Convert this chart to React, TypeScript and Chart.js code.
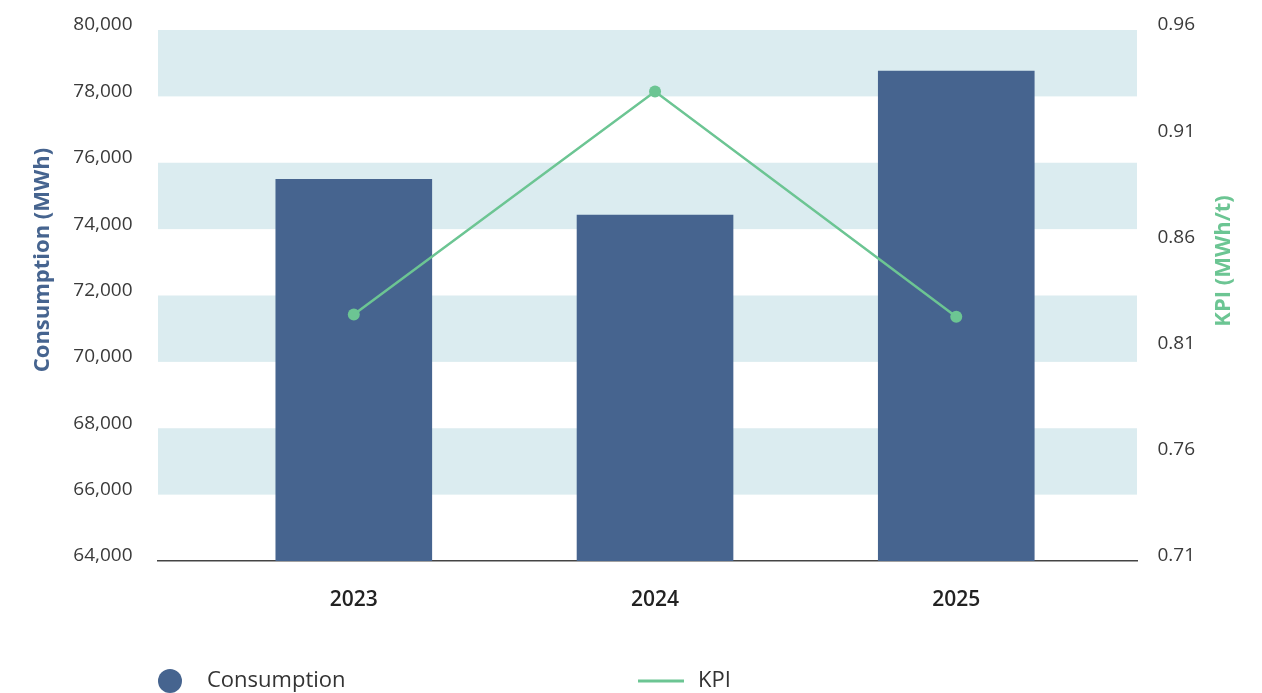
import { useEffect, useRef } from "react";
import { Chart, registerables } from "chart.js";

Chart.register(...registerables);

// Yearly energy consumption with the KPI intensity on a secondary axis
const YEARS = ["2023", "2024", "2025"];
const CONSUMPTION = [75510, 74430, 78770];
const KPI = [0.826, 0.931, 0.825];
const CONSUMPTION_TICKS = [64000, 66000, 68000, 70000, 72000, 74000, 76000, 78000, 80000];
const KPI_TICKS = [0.71, 0.76, 0.81, 0.86, 0.91, 0.96];

const LEFT_TITLE = "Consumption (MWh)";
const RIGHT_TITLE = "KPI (MWh/t)";
const SERIES_NAMES = ["Consumption", "KPI"];

const BAR_COLOR = "#46648f";
const LINE_COLOR = "#6cc593";
const BAND_COLOR = "#dbecf0";
const FONT = "'Open Sans', 'Noto Sans', sans-serif";

// Alternating shaded bands between every other pair of left-axis ticks
const bandsPlugin = {
  id: "bands",
  beforeDatasetsDraw(chart: any) {
    const { ctx, chartArea, scales } = chart;
    const y = scales.y;
    const ticks = y.ticks.map((t: any) => t.value);
    ctx.save();
    ctx.fillStyle = BAND_COLOR;
    for (let i = 1; i + 1 < ticks.length; i += 2) {
      const top = y.getPixelForValue(ticks[i + 1]);
      const bottom = y.getPixelForValue(ticks[i]);
      ctx.fillRect(chartArea.left, top, chartArea.right - chartArea.left, bottom - top);
    }
    ctx.restore();
  },
};

// Vertical axis titles, both reading bottom-to-top
const titlesPlugin = {
  id: "axisTitles",
  afterDraw(chart: any) {
    const { ctx } = chart;
    const draw = (text: string, x: number, y: number, color: string) => {
      ctx.save();
      ctx.translate(x, y);
      ctx.rotate(-Math.PI / 2);
      ctx.font = `bold 22px ${FONT}`;
      ctx.fillStyle = color;
      ctx.textAlign = "center";
      ctx.textBaseline = "middle";
      ctx.fillText(text, 0, 0);
      ctx.restore();
    };
    draw(LEFT_TITLE, 42.5, 260, BAR_COLOR);
    draw(RIGHT_TITLE, 1224, 261, LINE_COLOR);
  },
};

// Bottom legend: a dot for the bars, a short stroke for the line
const legendPlugin = {
  id: "bottomLegend",
  afterDraw(chart: any) {
    const { ctx } = chart;
    const datasets = chart.data.datasets;
    const bars = datasets.find((d: any) => d.type === "bar");
    const line = datasets.find((d: any) => d.type === "line");
    const cy = 681;
    ctx.save();
    ctx.font = `22px ${FONT}`;
    ctx.textBaseline = "middle";
    ctx.textAlign = "left";

    ctx.beginPath();
    ctx.arc(170, cy, 12, 0, Math.PI * 2);
    ctx.fillStyle = bars.backgroundColor;
    ctx.fill();
    ctx.fillStyle = "#333333";
    ctx.fillText(bars.label, 207, cy);

    ctx.beginPath();
    ctx.moveTo(638, cy);
    ctx.lineTo(684, cy);
    ctx.strokeStyle = line.borderColor;
    ctx.lineWidth = 3;
    ctx.stroke();
    ctx.fillText(line.label, 698, cy);
    ctx.restore();
  },
};

// Vertical axes reserve a fixed width and no extra label overhang
const fixVertical = (width: number) => (scale: any) => {
  scale.width = width;
  scale.paddingTop = 0;
  scale.paddingBottom = 0;
};

export default function App() {
  const canvasRef = useRef<HTMLCanvasElement | null>(null);

  useEffect(() => {
    document.body.style.margin = "0";
    const canvas = canvasRef.current;
    if (!canvas) return;

    const chart = new Chart(canvas, {
      type: "bar",
      data: {
        datasets: [
          {
            type: "line",
            label: SERIES_NAMES[1],
            data: KPI.map((v, i) => ({ x: i, y: v })),
            yAxisID: "y1",
            borderColor: LINE_COLOR,
            backgroundColor: LINE_COLOR,
            borderWidth: 2.5,
            pointRadius: 6,
            pointBorderWidth: 0,
            pointBackgroundColor: LINE_COLOR,
            tension: 0,
            order: 0,
          } as any,
          {
            type: "bar",
            label: SERIES_NAMES[0],
            data: CONSUMPTION.map((v, i) => ({ x: i, y: v })),
            yAxisID: "y",
            backgroundColor: BAR_COLOR,
            borderWidth: 0,
            barPercentage: 0.52,
            categoryPercentage: 1,
            order: 1,
          } as any,
        ],
      },
      options: {
        animation: false,
        responsive: true,
        maintainAspectRatio: false,
        layout: { padding: { top: 30, bottom: 62, left: 0, right: 0 } },
        plugins: {
          legend: { display: false },
          tooltip: { enabled: false },
          title: { display: false },
        },
        scales: {
          x: {
            type: "linear",
            offset: false,
            min: -0.65,
            max: 2.6,
            grid: { display: false, drawTicks: false, offset: false },
            border: { display: true, color: "#444444", width: 1.5 },
            afterBuildTicks: (scale: any) => {
              scale.ticks = YEARS.map((_, i) => ({ value: i }));
            },
            afterFit: (scale: any) => {
              scale.height = 70;
            },
            ticks: {
              autoSkip: false,
              maxRotation: 0,
              padding: 26,
              color: "#222222",
              font: { family: FONT, size: 21, weight: 600 },
              callback: (value: any) => YEARS[value as number] ?? "",
            },
          },
          y: {
            type: "linear",
            position: "left",
            min: CONSUMPTION_TICKS[0],
            max: CONSUMPTION_TICKS[CONSUMPTION_TICKS.length - 1],
            grid: { display: false, drawTicks: false },
            border: { display: false },
            afterBuildTicks: (scale: any) => {
              scale.ticks = CONSUMPTION_TICKS.map((v) => ({ value: v }));
            },
            afterFit: fixVertical(158),
            ticks: {
              padding: 25.5,
              labelOffset: -5,
              color: "#3a3a3a",
              font: { family: FONT, size: 19 },
              callback: (value: any) => Number(value).toLocaleString("en-US"),
            },
          },
          y1: {
            type: "linear",
            position: "right",
            min: KPI_TICKS[0],
            max: KPI_TICKS[KPI_TICKS.length - 1],
            grid: { display: false, drawTicks: false },
            border: { display: false },
            afterBuildTicks: (scale: any) => {
              scale.ticks = KPI_TICKS.map((v) => ({ value: v }));
            },
            afterFit: fixVertical(125),
            ticks: {
              padding: 20.5,
              labelOffset: -5,
              color: "#3a3a3a",
              font: { family: FONT, size: 19 },
              callback: (value: any) => Number(value).toFixed(2),
            },
          },
        },
      },
      plugins: [bandsPlugin, titlesPlugin, legendPlugin],
    });

    return () => chart.destroy();
  }, []);

  return (
    <div style={{ position: "relative", width: "1262px", height: "693px" }}>
      <canvas ref={canvasRef} />
    </div>
  );
}
